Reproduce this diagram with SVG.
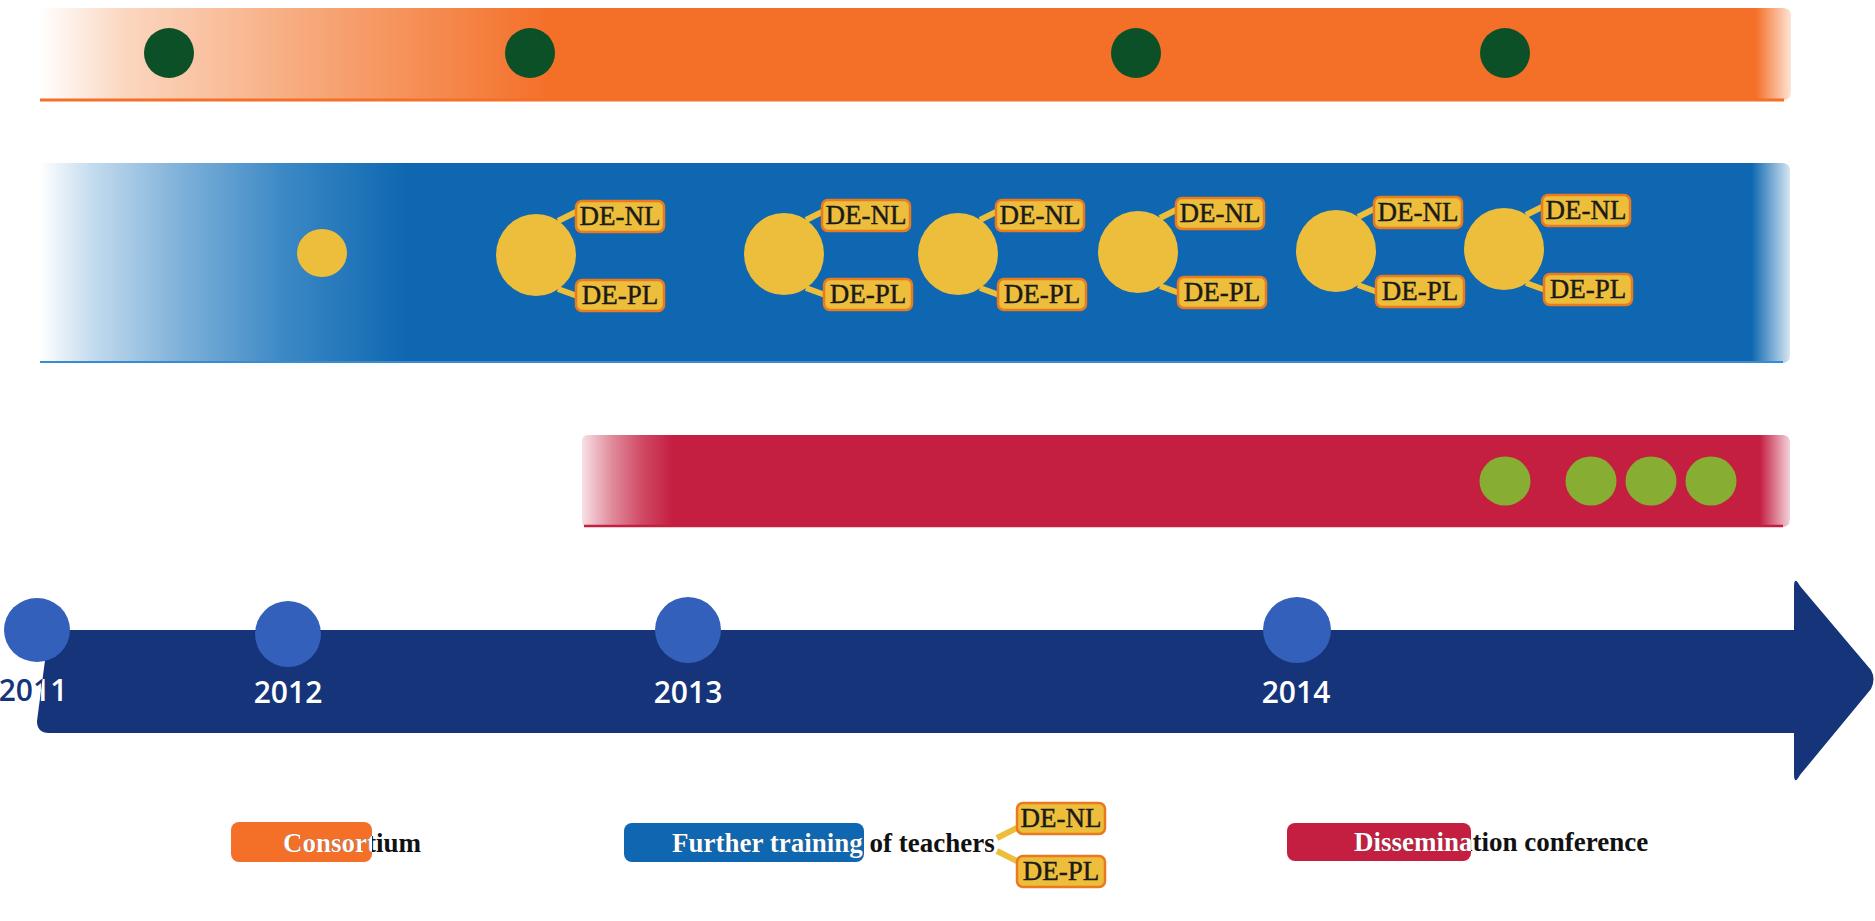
<svg xmlns="http://www.w3.org/2000/svg" width="1875" height="921" viewBox="0 0 1875 921">
<defs>
<linearGradient id="gOrange" gradientUnits="userSpaceOnUse" x1="39" y1="0" x2="1791" y2="0">
<stop offset="0" stop-color="#ffffff"/>
<stop offset="0.05" stop-color="#fbd6bf"/>
<stop offset="0.15" stop-color="#f7aa7d"/>
<stop offset="0.29" stop-color="#f47029"/>
<stop offset="0.98" stop-color="#f47029"/>
<stop offset="1" stop-color="#fde4d5"/>
</linearGradient>
<linearGradient id="gBlue" gradientUnits="userSpaceOnUse" x1="40" y1="0" x2="1790" y2="0">
<stop offset="0" stop-color="#ffffff"/>
<stop offset="0.03" stop-color="#c3dbee"/>
<stop offset="0.08" stop-color="#7fb1d9"/>
<stop offset="0.14" stop-color="#3b88c5"/>
<stop offset="0.21" stop-color="#0e67b0"/>
<stop offset="0.978" stop-color="#0e67b0"/>
<stop offset="1" stop-color="#d5e5f2"/>
</linearGradient>
<linearGradient id="gRed" gradientUnits="userSpaceOnUse" x1="582" y1="0" x2="1790" y2="0">
<stop offset="0" stop-color="#f8e0e5"/>
<stop offset="0.025" stop-color="#e08a9b"/>
<stop offset="0.05" stop-color="#d04964"/>
<stop offset="0.075" stop-color="#c41f41"/>
<stop offset="0.975" stop-color="#c41f41"/>
<stop offset="1" stop-color="#f3d2da"/>
</linearGradient>
<clipPath id="cBar"><path d="M49 630 H1800 V733 H49 Q37 733 37 721 Z"/></clipPath>
<clipPath id="cCons"><rect x="231" y="822" width="141" height="40" rx="8"/></clipPath>
<clipPath id="cTrain"><rect x="624" y="823" width="240" height="39" rx="8"/></clipPath>
<clipPath id="cDiss"><rect x="1287" y="823" width="184" height="38" rx="8"/></clipPath>
<style>
.dg{fill:#0b5027}
.lg{fill:#87ad33}
.yc{fill:#ecbe3b}
.tc{fill:#3360ba}
.lab{fill:#ecbe3b;stroke:#e97a1f;stroke-width:2.5}
.lt{font-family:"Liberation Serif","Times New Roman",serif;font-size:27px;fill:#1a1a1a;stroke:#1a1a1a;stroke-width:0.4;text-anchor:middle}
.yr{font-family:"Open Sans","Liberation Sans",sans-serif;font-size:30px;font-weight:600;fill:#ffffff;text-anchor:middle}
.leg{font-family:"Liberation Serif","Times New Roman",serif;font-size:27px;font-weight:bold}
.con{stroke:#ecbe3b;stroke-width:6;fill:none}
</style>
</defs>

<g id="bar-consortium">
<path d="M39 8 H1783 Q1791 8 1791 16 V92 Q1791 100 1783 100 H39 Z" fill="url(#gOrange)"/>
<line x1="40" y1="100" x2="1784" y2="100" stroke="#f47029" stroke-width="3"/>
<ellipse class="dg" cx="169" cy="53" rx="25" ry="25"/>
<ellipse class="dg" cx="530" cy="53" rx="25" ry="25"/>
<ellipse class="dg" cx="1136" cy="53" rx="25" ry="25"/>
<ellipse class="dg" cx="1505" cy="53" rx="25" ry="25"/>
</g>

<g id="bar-training">
<path d="M40 163 H1782 Q1790 163 1790 171 V355 Q1790 363 1782 363 H40 Z" fill="url(#gBlue)"/>
<line x1="40" y1="362" x2="1783" y2="362" stroke="#3a8cd0" stroke-width="2"/>
</g>

<g id="bar-dissemination">
<path d="M588 435 H1782 Q1790 435 1790 443 V519 Q1790 527 1782 527 H588 Q582 527 582 521 V441 Q582 435 588 435 Z" fill="url(#gRed)"/>
<line x1="584" y1="526" x2="1783" y2="526" stroke="#c41f41" stroke-width="2.5"/>
<ellipse class="lg" cx="1505" cy="481" rx="25.5" ry="24.5"/>
<ellipse class="lg" cx="1591" cy="481" rx="25.5" ry="24.5"/>
<ellipse class="lg" cx="1651" cy="481" rx="25.5" ry="24.5"/>
<ellipse class="lg" cx="1711" cy="481" rx="25.5" ry="24.5"/>
</g>

<g id="connectors">
<line class="con" x1="558" y1="221" x2="578" y2="211"/>
<line class="con" x1="558" y1="289" x2="580" y2="297"/>
<line class="con" x1="806" y1="220" x2="826" y2="210"/>
<line class="con" x1="806" y1="288" x2="828" y2="296"/>
<line class="con" x1="980" y1="220" x2="1000" y2="210"/>
<line class="con" x1="980" y1="288" x2="1002" y2="296"/>
<line class="con" x1="1160" y1="218" x2="1180" y2="208"/>
<line class="con" x1="1160" y1="286" x2="1182" y2="294"/>
<line class="con" x1="1358" y1="217" x2="1378" y2="207"/>
<line class="con" x1="1358" y1="285" x2="1380" y2="293"/>
<line class="con" x1="1526" y1="215" x2="1546" y2="205"/>
<line class="con" x1="1526" y1="283" x2="1548" y2="291"/>
<line class="con" x1="997" y1="838" x2="1019" y2="827"/>
<line class="con" x1="997" y1="851" x2="1019" y2="862"/>
</g>

<g id="training-0"><ellipse class="yc" cx="322" cy="253" rx="25" ry="24"/></g>
<g id="training-1">
<ellipse class="yc" cx="536" cy="255" rx="40" ry="41"/>
<rect class="lab" x="576" y="201" width="88" height="31" rx="6"/><text class="lt" x="620" y="225">DE-NL</text>
<rect class="lab" x="576" y="280" width="88" height="31" rx="6"/><text class="lt" x="620" y="304">DE-PL</text>
</g>
<g id="training-2">
<ellipse class="yc" cx="784" cy="254" rx="40" ry="41"/>
<rect class="lab" x="822" y="200" width="88" height="31" rx="6"/><text class="lt" x="866" y="224">DE-NL</text>
<rect class="lab" x="824" y="279" width="88" height="31" rx="6"/><text class="lt" x="868" y="303">DE-PL</text>
</g>
<g id="training-3">
<ellipse class="yc" cx="958" cy="254" rx="40" ry="41"/>
<rect class="lab" x="996" y="200" width="88" height="31" rx="6"/><text class="lt" x="1040" y="224">DE-NL</text>
<rect class="lab" x="998" y="279" width="88" height="31" rx="6"/><text class="lt" x="1042" y="303">DE-PL</text>
</g>
<g id="training-4">
<ellipse class="yc" cx="1138" cy="252" rx="40" ry="41"/>
<rect class="lab" x="1176" y="198" width="88" height="31" rx="6"/><text class="lt" x="1220" y="222">DE-NL</text>
<rect class="lab" x="1178" y="277" width="88" height="31" rx="6"/><text class="lt" x="1222" y="301">DE-PL</text>
</g>
<g id="training-5">
<ellipse class="yc" cx="1336" cy="251" rx="40" ry="41"/>
<rect class="lab" x="1374" y="197" width="88" height="31" rx="6"/><text class="lt" x="1418" y="221">DE-NL</text>
<rect class="lab" x="1376" y="276" width="88" height="31" rx="6"/><text class="lt" x="1420" y="300">DE-PL</text>
</g>
<g id="training-6">
<ellipse class="yc" cx="1504" cy="249" rx="40" ry="41"/>
<rect class="lab" x="1542" y="195" width="88" height="31" rx="6"/><text class="lt" x="1586" y="219">DE-NL</text>
<rect class="lab" x="1544" y="274" width="88" height="31" rx="6"/><text class="lt" x="1588" y="298">DE-PL</text>
</g>

<g id="timeline">
<path d="M49 630 H1794 V587 Q1794 575 1800 586 L1871 670 Q1876 679 1871 689 L1800 775 Q1794 786 1794 774 V733 H49 Q37 733 37 721 Z" fill="#15347a"/>
<ellipse class="tc" cx="37" cy="630" rx="33" ry="32"/>
<ellipse class="tc" cx="288" cy="634" rx="33" ry="33"/>
<ellipse class="tc" cx="688" cy="630" rx="33" ry="33"/>
<ellipse class="tc" cx="1297" cy="630" rx="34" ry="33"/>
<text class="yr" x="33" y="701" style="fill:#15347a">2011</text>
<text class="yr" x="33" y="701" clip-path="url(#cBar)">2011</text>
<text class="yr" x="288" y="703">2012</text>
<text class="yr" x="688" y="703">2013</text>
<text class="yr" x="1296" y="703">2014</text>
</g>

<g id="legend-consortium">
<rect x="231" y="822" width="141" height="40" rx="8" fill="#f47029"/>
<text class="leg" x="283" y="852" fill="#111111">Consortium</text>
<text class="leg" x="283" y="852" fill="#ffffff" clip-path="url(#cCons)">Consortium</text>
</g>
<g id="legend-training">
<rect x="624" y="823" width="240" height="39" rx="8" fill="#0e67b0"/>
<text class="leg" x="672" y="852" fill="#111111">Further training of teachers</text>
<text class="leg" x="672" y="852" fill="#ffffff" clip-path="url(#cTrain)">Further training of teachers</text>
<rect class="lab" x="1017" y="803" width="88" height="31" rx="6"/><text class="lt" x="1061" y="827">DE-NL</text>
<rect class="lab" x="1017" y="856" width="88" height="31" rx="6"/><text class="lt" x="1061" y="880">DE-PL</text>
</g>
<g id="legend-dissemination">
<rect x="1287" y="823" width="184" height="38" rx="8" fill="#c41f41"/>
<text class="leg" x="1354" y="851" fill="#111111">Dissemination conference</text>
<text class="leg" x="1354" y="851" fill="#ffffff" clip-path="url(#cDiss)">Dissemination conference</text>
</g>
</svg>
